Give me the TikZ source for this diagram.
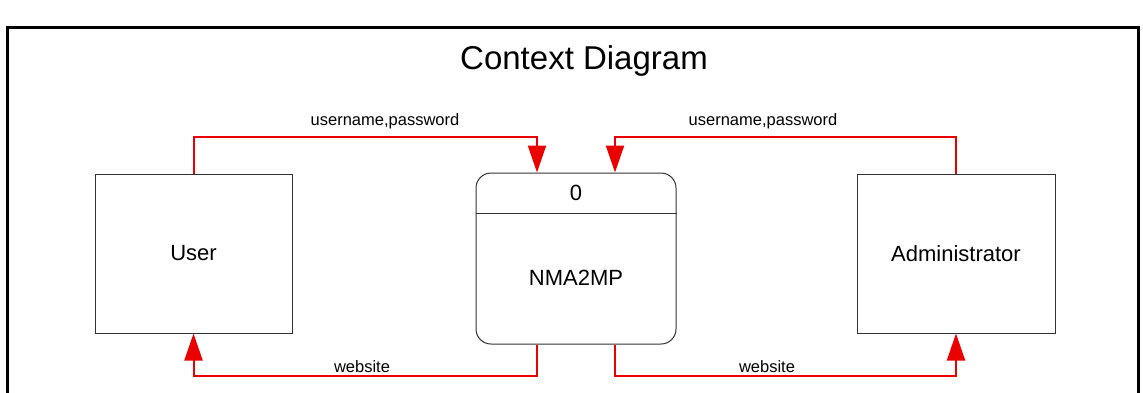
\documentclass[tikz,border=0pt]{standalone}
\usepackage{fontspec}
\setmainfont{Liberation Sans}
\usetikzlibrary{arrows.meta}
\begin{document}
\begin{tikzpicture}[x=1pt,y=-1pt,
  entity/.style={draw=black!80,line width=1pt,minimum width=197pt,minimum height=159pt,inner sep=0pt,font=\fontsize{22}{24}\selectfont},
  process/.style={draw=black!80,line width=1pt,rounded corners=15pt,minimum width=200pt,minimum height=171pt,inner sep=0pt},
  flow/.style={draw=red!92!black,line width=2pt,-{Triangle[length=27pt,width=18pt]}},
  flowlabel/.style={font=\fontsize{16.5}{18}\selectfont,inner sep=0pt}]
\useasboundingbox (0,0) rectangle (1143,392);
\clip (0,0) rectangle (1143,392);
\fill[white] (0,0) rectangle (1143,392);
% frame
\draw[line width=3pt] (7,410) -- (7,27) -- (1138,27) -- (1138,410);
% title
\node[font=\fontsize{33}{36}\selectfont] (title) at (584,61) {Context Diagram};
% nodes
\node[entity] (user) at (193.5,253.5) {User};
\node[entity,minimum width=198pt] (admin) at (956,253.5) {Administrator};
\node[process] (proc) at (576,258.5) {};
\draw[black!80,line width=1pt] (proc.west |- 0,213) -- (proc.east |- 0,213);
\node[font=\fontsize{22}{24}\selectfont] (pid) at (576,193) {0};
\node[font=\fontsize{22}{24}\selectfont] (pname) at (576,278) {NMA2MP};
% flows
\draw[flow] (user.north) -- ++(0,-37) -| ([xshift=-39pt]proc.north);
\draw[flow] (admin.north) -- ++(0,-37) -| ([xshift=39pt]proc.north);
\draw[flow] ([xshift=-39pt]proc.south) -- ++(0,31) -| (user.south);
\draw[flow] ([xshift=39pt]proc.south) -- ++(0,31) -| (admin.south);
% labels
\node[flowlabel] (l1) at (385,121) {username,password};
\node[flowlabel] (l2) at (763,121) {username,password};
\node[flowlabel] (l3) at (362,367) {website};
\node[flowlabel] (l4) at (767,367) {website};
\end{tikzpicture}
\end{document}
